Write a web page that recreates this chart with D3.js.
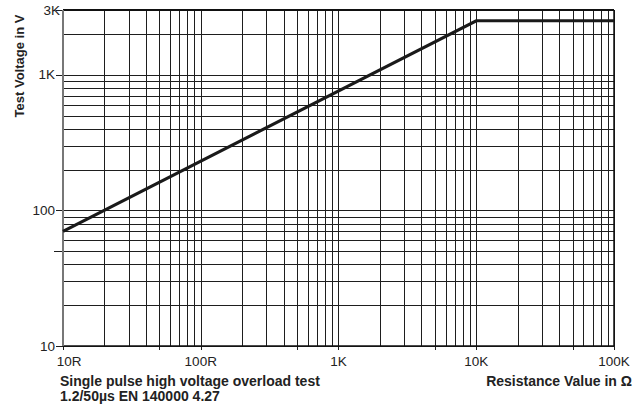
<!DOCTYPE html>
<html>
<head>
<meta charset="utf-8">
<script src="https://cdn.jsdelivr.net/npm/d3@7"></script>
<style>
  body { margin: 0; background: #fff; }
  svg text { font-family: 'Liberation Sans', Arial, sans-serif; fill: #222; }
</style>
</head>
<body>
<div id="chart"></div>
<script>
'use strict'

// curve: resistance (ohm) -> max test voltage (V)
var curveR = [10, 10000, 100000]
var curveV = [70, 2500, 2500]

// grid lines
var xGrid = []
var yGrid = []
;[10, 100, 1000, 10000].forEach(function(d) {
  for (var k = 1; k <= 9; k++) xGrid.push(d * k)
})
xGrid.push(100000)
;[10, 100].forEach(function(d) {
  for (var k = 1; k <= 9; k++) yGrid.push(d * k)
})
yGrid.push(1000, 2000, 3000)

var xLabels = [
  { v: 10, t: '10R' },
  { v: 100, t: '100R' },
  { v: 1000, t: '1K' },
  { v: 10000, t: '10K' },
  { v: 100000, t: '100K' }
]
var xOutTicks = [10, 50, 100, 500, 1000, 5000, 10000, 50000, 100000]
var yLabels = [
  { v: 10, t: '10' },
  { v: 100, t: '100' },
  { v: 1000, t: '1K' },
  { v: 3000, t: '3K' }
]
var yOutTicks = [10, 50, 100, 1000, 3000]

var margin = { top: 10, right: 30, bottom: 61, left: 63 }
var W = 644
var H = 407
var width = W - margin.left - margin.right
var height = H - margin.top - margin.bottom

var x = d3.scaleLog().domain([10, 100000]).range([0, width])
var y = d3.scaleLog().domain([10, 3000]).range([height, 0])

var svg = d3
  .select('#chart')
  .append('svg')
  .attr('width', W)
  .attr('height', H)

var g = svg
  .append('g')
  .attr('transform', 'translate(' + margin.left + ',' + margin.top + ')')

// vertical grid
g.selectAll('.vgrid')
  .data(xGrid)
  .enter()
  .append('line')
  .attr('x1', function(d) { return Math.round(x(d)) + 0.5 })
  .attr('x2', function(d) { return Math.round(x(d)) + 0.5 })
  .attr('y1', 0)
  .attr('y2', height)
  .attr('stroke', '#1e1e1e')
  .attr('stroke-width', 1)

// horizontal grid
g.selectAll('.hgrid')
  .data(yGrid)
  .enter()
  .append('line')
  .attr('x1', 0)
  .attr('x2', width)
  .attr('y1', function(d) { return Math.round(y(d)) + 0.5 })
  .attr('y2', function(d) { return Math.round(y(d)) + 0.5 })
  .attr('stroke', '#1e1e1e')
  .attr('stroke-width', 1)

// outer ticks
g.selectAll('.xt')
  .data(xOutTicks)
  .enter()
  .append('line')
  .attr('x1', function(d) { return Math.round(x(d)) + 0.5 })
  .attr('x2', function(d) { return Math.round(x(d)) + 0.5 })
  .attr('y1', height)
  .attr('y2', height + 4)
  .attr('stroke', '#1e1e1e')

g.selectAll('.yt')
  .data(yOutTicks)
  .enter()
  .append('line')
  .attr('x1', function(d) { return d === 50 ? -9 : -7 })
  .attr('x2', 0)
  .attr('y1', function(d) { return Math.round(y(d)) + 0.5 })
  .attr('y2', function(d) { return Math.round(y(d)) + 0.5 })
  .attr('stroke', '#1e1e1e')

// frame
g.append('line')
  .attr('x1', 0).attr('x2', width)
  .attr('y1', 0).attr('y2', 0)
  .attr('stroke', '#111').attr('stroke-width', 2)
g.append('line')
  .attr('x1', 0).attr('x2', width)
  .attr('y1', height).attr('y2', height)
  .attr('stroke', '#111').attr('stroke-width', 1.5)
g.append('line')
  .attr('x1', width).attr('x2', width)
  .attr('y1', 0).attr('y2', height)
  .attr('stroke', '#111').attr('stroke-width', 1.5)
g.append('line')
  .attr('x1', 0).attr('x2', 0)
  .attr('y1', 0).attr('y2', height)
  .attr('stroke', '#777').attr('stroke-width', 2)

// curve
var line = d3
  .line()
  .x(function(d, i) { return x(curveR[i]) })
  .y(function(d, i) { return y(curveV[i]) })

g.append('path')
  .datum(curveR)
  .attr('d', line)
  .attr('fill', 'none')
  .attr('stroke', '#1a1a1a')
  .attr('stroke-width', 3.2)

// tick labels
g.selectAll('.xl')
  .data(xLabels)
  .enter()
  .append('text')
  .attr('x', function(d) { return x(d.v) + (d.v === 10 ? 6 : 0) })
  .attr('y', height + 20)
  .attr('text-anchor', 'middle')
  .attr('font-size', '13.5px')
  .text(function(d) { return d.t })

g.selectAll('.yl')
  .data(yLabels)
  .enter()
  .append('text')
  .attr('x', function(d) { return d.v === 3000 ? -3 : -8 })
  .attr('y', function(d) { return y(d.v) })
  .attr('dy', '0.35em')
  .attr('text-anchor', 'end')
  .attr('font-size', '13.5px')
  .text(function(d) { return d.t })

// axis titles
svg.append('text')
  .attr('transform', 'translate(24,66) rotate(-90)')
  .attr('text-anchor', 'middle')
  .attr('font-size', '13px')
  .attr('font-weight', 'bold')
  .text('Test Voltage in V')

svg.append('text')
  .attr('x', 632)
  .attr('y', 386)
  .attr('text-anchor', 'end')
  .attr('font-size', '14px')
  .attr('font-weight', 'bold')
  .text('Resistance Value in \u03A9')

svg.append('text')
  .attr('x', 60)
  .attr('y', 386)
  .attr('font-size', '14px')
  .attr('font-weight', 'bold')
  .text('Single pulse high voltage overload test')

svg.append('text')
  .attr('x', 60)
  .attr('y', 401)
  .attr('font-size', '14px')
  .attr('font-weight', 'bold')
  .text('1.2/50\u00B5s EN 140000 4.27')
</script>
</body>
</html>
